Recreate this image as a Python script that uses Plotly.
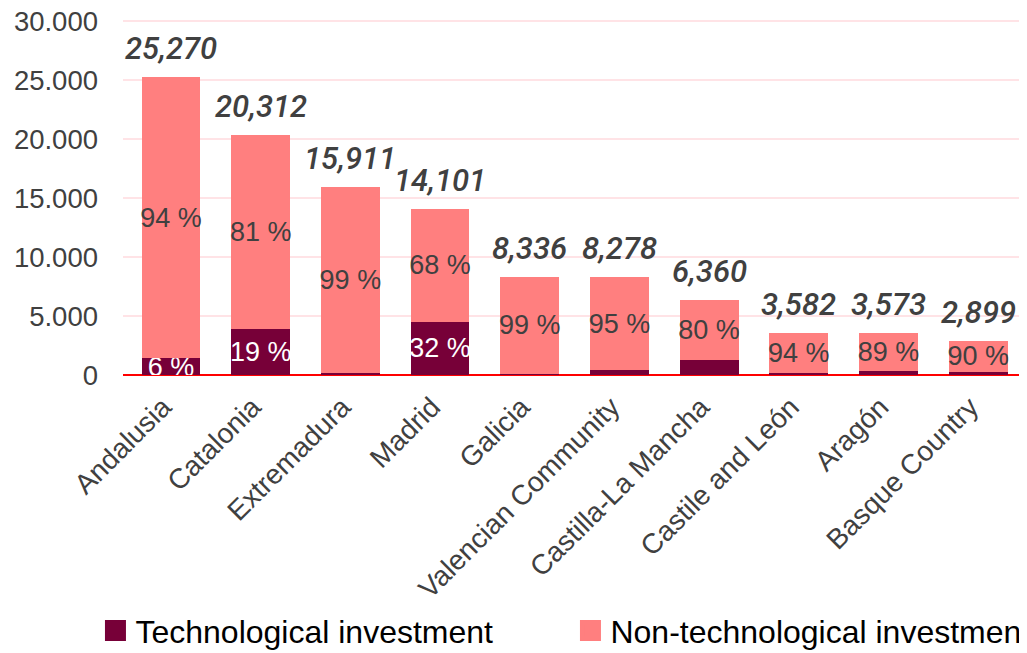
import plotly.graph_objects as go

regions = ["Andalusia", "Catalonia", "Extremadura", "Madrid", "Galicia",
           "Valencian Community", "Castilla-La Mancha", "Castile and León",
           "Aragón", "Basque Country"]
totals = [25270, 20312, 15911, 14101, 8336, 8278, 6360, 3582, 3573, 2899]
total_labels = ["25,270", "20,312", "15,911", "14,101", "8,336",
                "8,278", "6,360", "3,582", "3,573", "2,899"]
tech = [1400, 3860, 140, 4530, 80, 420, 1240, 210, 380, 280]
non_tech = [23870, 16452, 15771, 9571, 8256, 7858, 5120, 3372, 3193, 2619]
tech_pct = ["6 %", "19 %", "", "32 %", "", "", "", "", "", ""]
non_tech_pct = ["94 %", "81 %", "99 %", "68 %", "99 %",
                "95 %", "80 %", "94 %", "89 %", "90 %"]
y_ticks = [0, 5000, 10000, 15000, 20000, 25000, 30000]

DARK = "#770038"
SALMON = "#FF7F7F"
GREY = "#404040"
FONT = "Liberation Sans, Arial, sans-serif"

fig = go.Figure()

fig.add_trace(go.Bar(
    x=regions, y=tech, text=tech_pct, marker_color=DARK, marker_line_width=0,
    textposition="inside", insidetextanchor="middle", constraintext="none", textangle=0,
    insidetextfont=dict(color="white", size=27, family=FONT),
    showlegend=False, hoverinfo="skip"
))
fig.add_trace(go.Bar(
    x=regions, y=non_tech, text=non_tech_pct, marker_color=SALMON, marker_line_width=0,
    textposition="inside", insidetextanchor="middle", constraintext="none", textangle=0,
    insidetextfont=dict(color=GREY, size=27, family=FONT),
    showlegend=False, hoverinfo="skip"
))

# legend-only entries (bigger squares than the bar legend symbol)
for name, col in [("Technological investment", DARK),
                  ("Non-technological investment", SALMON)]:
    fig.add_trace(go.Scatter(
        x=[None], y=[None], mode="markers", name=name,
        marker=dict(symbol="square", size=16, color=col, line=dict(width=5, color=col))
    ))

for reg, tot, lab in zip(regions, totals, total_labels):
    fig.add_annotation(
        x=reg, y=tot, text=lab, showarrow=False, yanchor="bottom", yshift=8,
        font=dict(family="Roboto, Liberation Sans, sans-serif", size=31, color=GREY,
                  style="italic", weight=500)
    )

# page body adds an 8px margin, so the figure is 8px smaller than the window
fig.update_layout(
    width=1019, height=645,
    margin=dict(l=115, r=4, t=11.8, b=277.7, autoexpand=False),
    barmode="stack", bargap=0.344,
    separators=",.",
    plot_bgcolor="white", paper_bgcolor="white",
    font=dict(family=FONT, color=GREY),
    legend=dict(
        orientation="h", traceorder="normal",
        x=-0.0306, xanchor="left", y=-0.72, yanchor="middle",
        entrywidth=430, font=dict(size=32, color="black", family=FONT),
        bgcolor="rgba(0,0,0,0)"
    )
)

fig.update_xaxes(
    tickangle=-45, tickfont=dict(size=28, color=GREY), showgrid=False, ticks="",
    ticklabelshift=-8, ticklabelstandoff=9
)
fig.update_yaxes(
    range=[0, 30100], tickvals=y_ticks, tickformat=",d",
    tickfont=dict(size=27.5, color=GREY), ticklabelstandoff=24,
    ticklabeloverflow="allow",
    showgrid=True, gridcolor="#FFE3E6", gridwidth=2,
    zeroline=True, zerolinecolor="#FF0000", zerolinewidth=2
)

fig.write_html("out.html")
